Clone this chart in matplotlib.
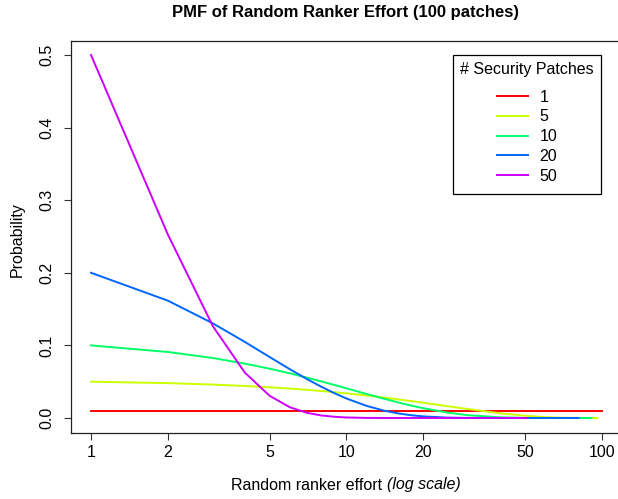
import matplotlib
matplotlib.use('Agg')
from matplotlib import pyplot as plt
from matplotlib.ticker import FixedLocator, NullLocator

plt.rcParams['font.family'] = ['Liberation Sans', 'DejaVu Sans']

# values (effort = rank of first security patch found)
effort_1 = [1, 2, 5, 10, 20, 50, 100]
prob_1 = [0.01, 0.01, 0.01, 0.01, 0.01, 0.01, 0.01]

effort_5 = [1, 2, 3, 4, 5, 6, 7, 8, 10, 12, 15, 20, 25, 30, 40, 50, 60, 70, 80, 90, 96]
prob_5 = [0.05, 0.048, 0.046, 0.0441, 0.0423, 0.0405, 0.0388, 0.0371, 0.0339, 0.031,
          0.0269, 0.021, 0.0161, 0.0122, 0.0065, 0.0031, 0.0012, 0.0004, 0.0001, 0.0, 0.0]

effort_10 = [1, 2, 3, 4, 5, 6, 7, 8, 9, 10, 12, 14, 16, 18, 20, 25, 30, 40, 50, 60, 70, 80, 91]
prob_10 = [0.1, 0.0909, 0.0826, 0.0749, 0.0679, 0.0615, 0.0556, 0.0502, 0.0453, 0.0408,
           0.033, 0.0266, 0.0213, 0.0169, 0.0134, 0.0073, 0.0038, 0.0009, 0.0001, 0.0, 0.0, 0.0, 0.0]

effort_20 = [1, 2, 3, 4, 5, 6, 7, 8, 9, 10, 12, 14, 16, 18, 20, 25, 30, 40, 50, 60, 70, 81]
prob_20 = [0.2, 0.1616, 0.1303, 0.1048, 0.084, 0.0672, 0.0536, 0.0427, 0.0339, 0.0268,
           0.0166, 0.0102, 0.0062, 0.0037, 0.0022, 0.0005, 0.0001, 0.0, 0.0, 0.0, 0.0, 0.0]

effort_50 = [1, 2, 3, 4, 5, 6, 7, 8, 9, 10, 12, 15, 20, 30, 40, 51]
prob_50 = [0.5, 0.2525, 0.1263, 0.0625, 0.0306, 0.0148, 0.0071, 0.0034, 0.0016, 0.0007,
           0.0001, 0.0, 0.0, 0.0, 0.0, 0.0]

series = [('1', effort_1, prob_1, '#FF0000'),
          ('5', effort_5, prob_5, '#CCFF00'),
          ('10', effort_10, prob_10, '#00FF66'),
          ('20', effort_20, prob_20, '#0066FF'),
          ('50', effort_50, prob_50, '#CC00FF')]

xticks = [1, 2, 5, 10, 20, 50, 100]
yticks = [0.0, 0.1, 0.2, 0.3, 0.4, 0.5]

W, H = 618, 499
fig = plt.figure(figsize=(W / 100, H / 100), dpi=100)
ax = fig.add_axes([70.6 / W, (H - 432.5) / H, 551.8 / W, 392 / H])

for name, xs, ys, col in series:
    ax.plot(xs, ys, color=col, lw=1.4, label=name)

ax.set_xscale('log')
ax.set_xlim(10 ** -0.08, 10 ** 2.08)
ax.set_ylim(-0.02, 0.52)
ax.xaxis.set_major_locator(FixedLocator(xticks))
ax.xaxis.set_minor_locator(NullLocator())
ax.set_xticklabels([str(t) for t in xticks])
ax.set_yticks(yticks)
ax.set_yticklabels([f'{t:.1f}' for t in yticks], rotation=90, va='center')
ax.tick_params(axis='both', length=5, width=0.8, labelsize=11.5, color='#333333')
ax.tick_params(axis='x', pad=4)
ax.tick_params(axis='y', pad=7)
for s in ax.spines.values():
    s.set_linewidth(0.9)
    s.set_color('#222222')

fig.text(346 / W, 1 - 12 / H, 'PMF of Random Ranker Effort (100 patches)',
         ha='center', va='center', fontsize=12, fontweight='bold')

# x label: plain part + italic part, laid out side by side and centred together
t1 = fig.text(0, 1 - 485 / H, 'Random ranker effort ', ha='left', va='center', fontsize=11.5)
t2 = fig.text(0, 1 - 485 / H, '(log scale)', ha='left', va='center', fontsize=11.5,
              style='italic')
fig.canvas.draw()
r = fig.canvas.get_renderer()
w1 = t1.get_window_extent(r).width
w2 = t2.get_window_extent(r).width
x0 = 346 - (w1 + w2) / 2
t1.set_x(x0 / W)
t2.set_x((x0 + w1) / W)

fig.text(17 / W, 1 - 240 / H, 'Probability', ha='center', va='center',
         rotation=90, fontsize=11.5)

leg = ax.legend(title='# Security Patches', loc='upper right',
                bbox_to_anchor=(601 / W, 1 - 55 / H), bbox_transform=fig.transFigure,
                borderaxespad=0, fontsize=11.5, title_fontsize=11.5,
                fancybox=False, edgecolor='black', framealpha=1,
                handlelength=1.95, handletextpad=0.7, labelspacing=0.3,
                borderpad=0.45)
leg.get_frame().set_linewidth(0.9)
# a bit more room between legend title and the entries, as in the reference
leg._legend_box.sep = 7
leg._legend_box._children[-1].pad = 2

fig.savefig('out.png', dpi=100)
